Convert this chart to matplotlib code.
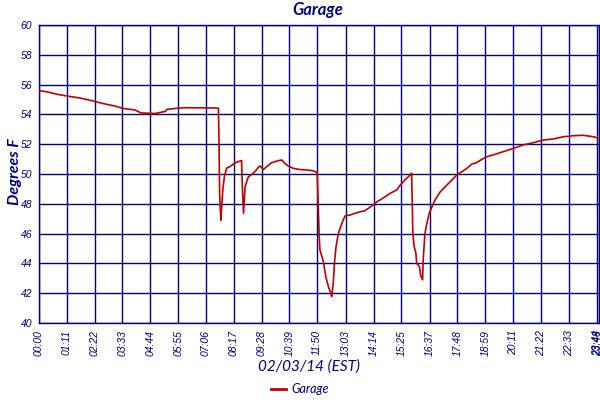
import numpy as np
import matplotlib
matplotlib.use("Agg")
import matplotlib.pyplot as plt
from matplotlib.lines import Line2D

# minutes since midnight, temperature (F)
minutes = [0, 23, 46, 79, 105, 138, 163, 194, 214, 245, 260, 296, 322, 327, 347, 373,
           454, 458, 459, 461, 464, 466, 469, 473, 479, 488, 500, 517, 519, 522, 526,
           534, 543, 551, 560, 564, 573, 583, 594, 611, 620, 628, 636, 649, 666, 683,
           700, 710, 713, 715, 717, 726, 732, 739, 745, 747, 751, 754, 758, 764, 773,
           781, 794, 811, 832, 849, 866, 871, 896, 913, 922, 934, 947, 951, 953, 954,
           957, 962, 964, 971, 974, 979, 981, 985, 990, 996, 1003, 1011, 1024, 1041,
           1054, 1066, 1079, 1092, 1105, 1117, 1130, 1143, 1164, 1185, 1211, 1236,
           1262, 1287, 1313, 1338, 1364, 1389, 1415, 1428]
temps = [55.6, 55.5, 55.35, 55.2, 55.1, 54.9, 54.73, 54.56, 54.4, 54.3, 54.1, 54.06,
         54.2, 54.34, 54.4, 54.45, 54.43, 54.4, 52.95, 48.7, 46.9, 47.7, 48.9, 49.8,
         50.4, 50.5, 50.75, 50.9, 49.15, 47.36, 49.15, 49.8, 49.97, 50.15, 50.45,
         50.54, 50.3, 50.54, 50.76, 50.9, 50.94, 50.7, 50.54, 50.38, 50.3, 50.27,
         50.22, 50.09, 47.58, 45.9, 44.9, 44.1, 43.1, 42.4, 42.0, 41.77, 42.66, 44.0,
         45.1, 46.0, 46.7, 47.18, 47.25, 47.4, 47.54, 47.85, 48.2, 48.26, 48.7, 48.93,
         49.26, 49.6, 49.93, 50.05, 47.58, 46.13, 45.2, 44.67, 44.0, 43.78, 43.2, 42.9,
         44.45, 46.0, 46.7, 47.36, 47.8, 48.26, 48.8, 49.26, 49.6, 49.93, 50.15, 50.38,
         50.67, 50.76, 50.98, 51.16, 51.32, 51.5, 51.72, 51.95, 52.1, 52.28, 52.35,
         52.5, 52.57, 52.6, 52.5, 52.4]

tick_labels = ["00:00", "01:11", "02:22", "03:33", "04:44", "05:55", "07:06", "08:17",
               "09:28", "10:39", "11:50", "13:03", "14:14", "15:25", "16:37", "17:48",
               "18:59", "20:11", "21:22", "22:33", "23:44", "23:48"]
y_ticks = [40, 42, 44, 46, 48, 50, 52, 54, 56, 58, 60]

navy = "#000080"
red = "#c00000"

def to_min(s):
    h, m = s.split(":")
    return int(h) * 60 + int(m)

tick_pos = [to_min(s) for s in tick_labels]

fig = plt.figure(figsize=(6, 4), dpi=100)
ax = fig.add_axes([0.065, 0.1925, 0.9325, 0.745])

ax.plot(minutes, temps, color=red, lw=1.2, zorder=3)

ax.set_xlim(0, 1428)
ax.set_ylim(40, 60)
ax.set_xticks(tick_pos)
ax.set_xticklabels(tick_labels, rotation=90, fontsize=7.5, style="italic",
                   color=navy, family="Liberation Sans")
ax.set_yticks(y_ticks)
ax.set_yticklabels([str(v) for v in y_ticks], fontsize=7.5, style="italic",
                   color=navy, family="Liberation Sans")
ax.tick_params(length=0, pad=5)
ax.grid(True, color=navy, lw=1)
for sp in ax.spines.values():
    sp.set_color(navy)
    sp.set_linewidth(1)

fig.text(0.53, 0.975, "Garage", ha="center", va="center", fontsize=12,
         fontweight="bold", style="italic", color=navy, family="Lato")
fig.text(0.025, 0.57, "Degrees F", ha="center", va="center", rotation=90,
         fontsize=11.5, fontweight="bold", style="italic", color=navy, family="Lato")
fig.text(0.515, 0.083, "02/03/14 (EST)", ha="center", va="center", fontsize=11,
         style="italic", color=navy, family="Lato")

handle = Line2D([], [], color=red, lw=2)
leg = fig.legend([handle], ["Garage"], loc="center", bbox_to_anchor=(0.5, 0.027),
                 frameon=False, handlelength=1.2, handletextpad=0.4,
                 prop={"family": "Lato", "style": "italic", "size": 9})
for t in leg.get_texts():
    t.set_color(navy)

fig.savefig("out.png", dpi=100)
